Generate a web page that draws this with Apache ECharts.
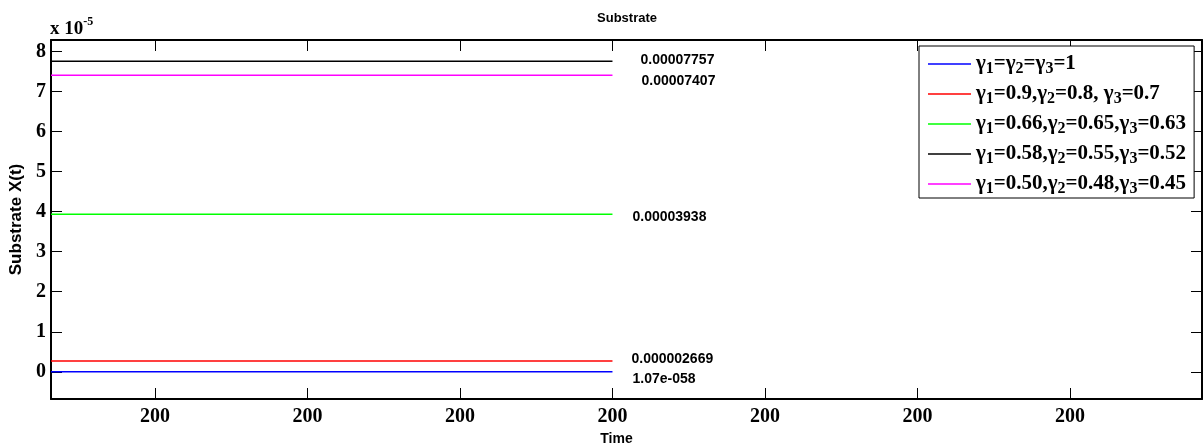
<!DOCTYPE html>
<html><head><meta charset="utf-8">
<script src="https://cdn.jsdelivr.net/npm/echarts@6/dist/echarts.min.js"></script>
<style>html,body{margin:0;padding:0;background:#fff}#c{width:1204px;height:445px}</style>
</head><body><div id="c"></div>
<script>
// ---- data ----
const seriesNames = ['γ1=γ2=γ3=1', 'γ1=0.9,γ2=0.8, γ3=0.7', 'γ1=0.66,γ2=0.65,γ3=0.63', 'γ1=0.58,γ2=0.55,γ3=0.52', 'γ1=0.50,γ2=0.48,γ3=0.45'];
const seriesValues = [1.07e-58, 0.000002669, 0.00003938, 0.00007757, 0.00007407];
const valueLabels = ['1.07e-058', '0.000002669', '0.00003938', '0.00007757', '0.00007407'];
const seriesColors = ['#0000ff', '#ff0000', '#00ff00', '#000000', '#ff00ff'];
const timeRange = [-0.682, 6.866];          // axis extent, in tick units
const timeEnd = 3;                          // lines stop at the 4th tick
const xTickValues = [0, 1, 2, 3, 4, 5, 6];
const xTickLabels = ['200', '200', '200', '200', '200', '200', '200'];
const yRange = [-0.68e-5, 8.29e-5];
const yTickValues = [0, 1e-5, 2e-5, 3e-5, 4e-5, 5e-5, 6e-5, 7e-5, 8e-5];
const yTickLabels = ['0', '1', '2', '3', '4', '5', '6', '7', '8'];

// ---- styles ----
const labelOffsets = [[20, 7], [19, -2], [20, 3], [28, -1.5], [29, 6]];
const serif = 'Liberation Serif';
const sans = 'Liberation Sans';

function nearestIdx(arr, v) {
  let best = 0;
  for (let i = 1; i < arr.length; i++) if (Math.abs(arr[i] - v) < Math.abs(arr[best] - v)) best = i;
  return best;
}

const chart = echarts.init(document.getElementById('c'), null, {renderer: 'canvas'});

const axisLineStyle = {show: true, onZero: false, lineStyle: {color: '#000', width: 2}};
const tickStyle = {show: true, inside: true, length: 11, lineStyle: {color: '#000', width: 1}};

const option = {
  animation: false,
  backgroundColor: '#fff',
  title: {
    text: 'Substrate', left: 622, top: 7, textAlign: 'center',
    textStyle: {fontFamily: sans, fontWeight: 'bold', fontSize: 13, color: '#000'}
  },
  grid: {left: 51, top: 40, width: 1151, height: 359, containLabel: false, outerBoundsMode: 'none'},
  legend: {
    orient: 'vertical', left: 919, top: 46,
    icon: 'rect', itemWidth: 43, itemHeight: 1.5, itemGap: 5,
    padding: [6, 8, 1, 9],
    backgroundColor: '#fff', borderColor: '#000', borderWidth: 1, borderRadius: 0,
    data: seriesNames,
    formatter: function (name) { return name.replace(/γ(\d)/g, 'γ{s|$1}'); },
    textStyle: {
      fontFamily: serif, fontWeight: 'bold', fontSize: 21, color: '#000', lineHeight: 24,
      rich: {s: {fontFamily: serif, fontWeight: 'bold', fontSize: 16, color: '#000', padding: [10, 0, 0, 0]}}
    }
  },
  xAxis: [{
    type: 'value', position: 'bottom', min: timeRange[0], max: timeRange[1],
    name: 'Time', nameLocation: 'middle', nameGap: 27,
    nameTextStyle: {fontFamily: sans, fontWeight: 'bold', fontSize: 14, color: '#000', padding: [0, 20, 0, 0]},
    axisLine: axisLineStyle,
    axisTick: Object.assign({customValues: xTickValues}, tickStyle),
    axisLabel: {
      customValues: xTickValues, margin: 8,
      fontFamily: serif, fontWeight: 'bold', fontSize: 20, color: '#000',
      formatter: function (v) { return xTickLabels[nearestIdx(xTickValues, v)]; }
    },
    splitLine: {show: false}
  }, {
    type: 'value', position: 'top', min: timeRange[0], max: timeRange[1],
    axisLine: axisLineStyle,
    axisTick: Object.assign({customValues: xTickValues}, tickStyle),
    axisLabel: {show: false}, splitLine: {show: false}
  }],
  yAxis: [{
    type: 'value', position: 'left', min: yRange[0], max: yRange[1],
    name: 'Substrate X(t)', nameLocation: 'middle', nameGap: 26,
    nameTextStyle: {fontFamily: sans, fontWeight: 'bold', fontSize: 17, color: '#000'},
    axisLine: axisLineStyle,
    axisTick: Object.assign({customValues: yTickValues}, tickStyle),
    axisLabel: {
      customValues: yTickValues, margin: 5,
      fontFamily: serif, fontWeight: 'bold', fontSize: 20, color: '#000',
      formatter: function (v) { return yTickLabels[nearestIdx(yTickValues, v)]; }
    },
    splitLine: {show: false}
  }, {
    type: 'value', position: 'right', min: yRange[0], max: yRange[1],
    axisLine: axisLineStyle,
    axisTick: Object.assign({customValues: yTickValues}, tickStyle),
    axisLabel: {show: false}, splitLine: {show: false}
  }],
  graphic: [{
    type: 'text', left: 50, top: 16,
    style: {
      text: '{a|x 10}{b|-5}',
      rich: {
        a: {fontFamily: serif, fontWeight: 'bold', fontSize: 19, fill: '#000'},
        b: {fontFamily: serif, fontWeight: 'bold', fontSize: 12, fill: '#000', padding: [0, 0, 14, 0]}
      }
    }
  }],
  series: seriesNames.map(function (name, i) {
    return {
      name: name, type: 'line', xAxisIndex: 0, yAxisIndex: 0,
      data: [[timeRange[0], seriesValues[i]], [timeEnd, seriesValues[i]]],
      symbol: 'none', showSymbol: false,
      lineStyle: {color: seriesColors[i], width: 1.5},
      itemStyle: {color: seriesColors[i]},
      endLabel: {
        show: true, distance: 0, offset: labelOffsets[i],
        formatter: function () { return valueLabels[i]; },
        fontFamily: sans, fontWeight: 'bold', fontSize: 14, color: '#000'
      }
    };
  })
};
chart.setOption(option);
</script></body></html>
